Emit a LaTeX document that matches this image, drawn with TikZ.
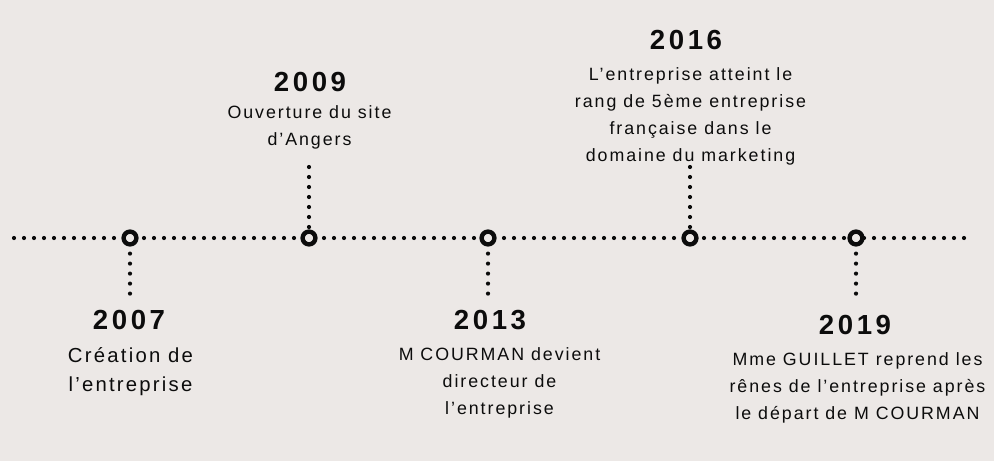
\documentclass[tikz,border=0pt]{standalone}
\usepackage{fontspec}
\setmainfont{Liberation Sans}
\newfontfamily\yearfont[LetterSpace=13]{Liberation Sans Bold}
\newfontfamily\bodyfont[LetterSpace=11]{Liberation Sans}
\definecolor{bg}{HTML}{ECE8E6}
\definecolor{ink}{HTML}{0C0C0C}
\begin{document}
\begin{tikzpicture}[x=1pt,y=-1pt,
  dotline/.style={draw=ink,line width=4.2pt,line cap=round,dash pattern=on 0pt off 10pt},
  ring/.style={circle,draw=ink,fill=bg,line width=4.4pt,minimum size=12.8pt,inner sep=0pt},
  year/.style={text=ink,font=\yearfont\fontsize{27.6}{30}\selectfont},
  body/.style={text=ink,align=center,font=\bodyfont\fontsize{17.8}{27}\selectfont},
  bodybig/.style={text=ink,align=center,font=\bodyfont\fontsize{20.3}{29}\selectfont}]
\fill[bg] (0,0) rectangle (994,461);
\useasboundingbox (0,0) rectangle (994,461);
\coordinate (L) at (14,238);
\coordinate (R) at (966,238);
\draw[dotline] (L) -- (R);
% vertical connectors
\coordinate (e1) at (130,298);
\coordinate (e2) at (309,167);
\coordinate (e3) at (488,298);
\coordinate (e4) at (690,167);
\coordinate (e5) at (856,298);
\node[ring] (c1) at (130,238) {};
\node[ring] (c2) at (309,238) {};
\node[ring] (c3) at (488,238) {};
\node[ring] (c4) at (690,238) {};
\node[ring] (c5) at (856,238) {};
\draw[dotline,dash phase=3pt] (c1.south) -- (e1);
\draw[dotline,dash phase=3pt] (c3.south) -- (e3);
\draw[dotline,dash phase=3pt] (c5.south) -- (e5);
\draw[dotline] (e2) -- (c2.north);
\draw[dotline] (e4) -- (c4.north);
% texts
\node[year] (y1) at (129,320) {2007};
\node[bodybig] (t1) at (130.5,371.5) {Création de\\l’entreprise};
\node[year] (y2) at (310,82) {2009};
\node[body] (t2) at (309.5,127.5) {Ouverture du site\\d’Angers};
\node[year] (y3) at (490,320) {2013};
\node[body] (t3) at (499.5,383) {M COURMAN devient\\directeur de\\l’entreprise};
\node[year] (y4) at (686,40) {2016};
\node[body] (t4) at (690.5,116.5) {L’entreprise atteint le\\rang de 5ème entreprise\\française dans le\\domaine du marketing};
\node[year] (y5) at (855,325) {2019};
\node[body] (t5) at (857.5,388) {Mme GUILLET reprend les\\rênes de l’entreprise après\\le départ de M COURMAN};
\end{tikzpicture}
\end{document}
